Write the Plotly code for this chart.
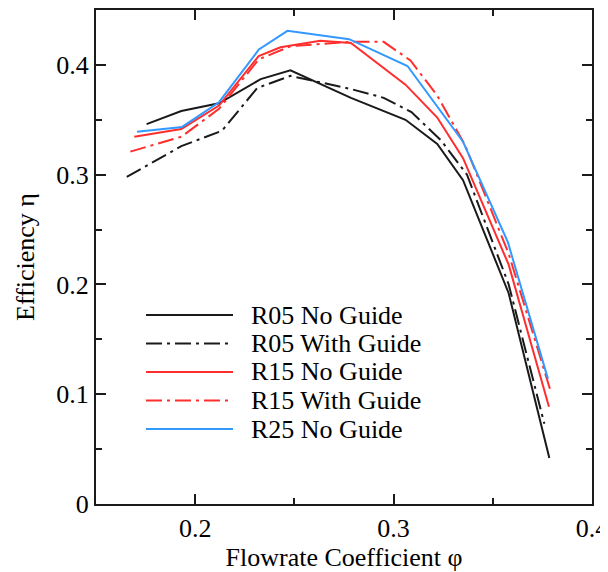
import plotly.graph_objects as go

# ---- data ----
r05_ng_x = [0.1755, 0.193, 0.212, 0.233, 0.248, 0.2785, 0.306, 0.322, 0.335, 0.358, 0.3785]
r05_ng_y = [0.346, 0.358, 0.365, 0.387, 0.395, 0.370, 0.350, 0.328, 0.295, 0.192, 0.042]

r05_wg_x = [0.1655, 0.193, 0.2135, 0.2313, 0.248, 0.2785, 0.295, 0.309, 0.324, 0.337, 0.358, 0.376]
r05_wg_y = [0.298, 0.326, 0.340, 0.379, 0.390, 0.378, 0.370, 0.357, 0.331, 0.300, 0.200, 0.073]

r15_ng_x = [0.1693, 0.193, 0.212, 0.232, 0.243, 0.263, 0.2785, 0.306, 0.322, 0.335, 0.358, 0.3783]
r15_ng_y = [0.3345, 0.3415, 0.363, 0.408, 0.416, 0.422, 0.420, 0.382, 0.352, 0.315, 0.218, 0.0885]

r15_wg_x = [0.1673, 0.193, 0.212, 0.232, 0.248, 0.2785, 0.295, 0.3085, 0.322, 0.336, 0.358, 0.379]
r15_wg_y = [0.321, 0.3345, 0.360, 0.405, 0.417, 0.421, 0.421, 0.404, 0.372, 0.327, 0.228, 0.1036]

r25_ng_x = [0.1707, 0.1934, 0.212, 0.2321, 0.2465, 0.2776, 0.307, 0.322, 0.335, 0.3576, 0.3778]
r25_ng_y = [0.339, 0.3435, 0.366, 0.414, 0.431, 0.4234, 0.399, 0.362, 0.330, 0.2385, 0.114]

series_names = ["R05 No Guide", "R05 With Guide", "R15 No Guide", "R15 With Guide", "R25 No Guide"]

x_tick_vals = [0.2, 0.3, 0.4]
x_tick_text = ["0.2", "0.3", "0.4"]
y_tick_vals = [0, 0.1, 0.2, 0.3, 0.4]
y_tick_text = ["0", "0.1", "0.2", "0.3", "0.4"]

BLACK = "#1a1a1a"
RED = "#ff2e2e"
BLUE = "#3399ff"
DASHDOT = "16px,5px,3px,5px"
FONT = "Liberation Serif"
FS = 26

styles = [
    (BLACK, "solid"),
    (BLACK, DASHDOT),
    (RED, "solid"),
    (RED, DASHDOT),
    (BLUE, "solid"),
]
xs = [r05_ng_x, r05_wg_x, r15_ng_x, r15_wg_x, r25_ng_x]
ys = [r05_ng_y, r05_wg_y, r15_ng_y, r15_wg_y, r25_ng_y]

fig = go.Figure()
for name, x, y, (c, d) in zip(series_names, xs, ys, styles):
    fig.add_trace(go.Scatter(x=x, y=y, mode="lines", name=name,
                             line=dict(color=c, width=2, dash=d),
                             showlegend=False))

# page body has an 8px default margin, so the figure is offset by (8, 8)
OFF = 8
W, H = 608 - OFF, 572 - OFF
L, T = 96 - OFF, 10 - OFF
R = W - L - 496
B = H - T - 494
pw, ph = W - L - R, H - T - B

def px_to_paper(px, py):
    # px, py in window pixels
    return (px - OFF - L) / pw, (T + ph - (py - OFF)) / ph

# manual legend (long line samples as in the reference)
row_y = [315, 343.5, 372, 400.5, 429]
for name, (c, d), py in zip(series_names, styles, row_y):
    x0, y0 = px_to_paper(146, py)
    x1, _ = px_to_paper(233, py)
    fig.add_shape(type="line", xref="paper", yref="paper", x0=x0, x1=x1, y0=y0, y1=y0,
                  line=dict(color=c, width=2, dash=d))
    tx, _ = px_to_paper(249, py)
    fig.add_annotation(xref="paper", yref="paper", x=tx, y=y0, text=name, showarrow=False,
                       xanchor="left", yanchor="middle",
                       font=dict(family=FONT, size=FS, color="black"))

axis_common = dict(showline=True, linecolor=BLACK, linewidth=2, mirror="ticks",
                   ticks="inside", ticklen=10, tickwidth=1.5, tickcolor=BLACK,
                   showgrid=False, zeroline=False, automargin=False,
                   ticklabeloverflow="allow",
                   tickfont=dict(family=FONT, size=FS, color="black"))

fig.update_layout(
    width=W, height=H,
    margin=dict(l=L, r=R, t=T, b=B),
    paper_bgcolor="white", plot_bgcolor="white",
    font=dict(family=FONT, size=FS, color="black"),
    xaxis=dict(range=[0.15, 0.4], tickvals=x_tick_vals, ticktext=x_tick_text,
               minor=dict(ticks="inside", ticklen=6, tickwidth=1.5, tickcolor=BLACK,
                          tickvals=[0.25, 0.35]),
               title=dict(text="Flowrate Coefficient φ", standoff=0,
                          font=dict(family=FONT, size=FS, color="black")),
               **axis_common),
    yaxis=dict(range=[0, 0.45], tickvals=y_tick_vals, ticktext=y_tick_text,
               minor=dict(ticks="inside", ticklen=6, tickwidth=1.5, tickcolor=BLACK,
                          tickvals=[0.05, 0.15, 0.25, 0.35]),
               title=dict(text="Efficiency η", standoff=14,
                          font=dict(family=FONT, size=FS, color="black")),
               **axis_common),
)

fig.write_html("out.html")
